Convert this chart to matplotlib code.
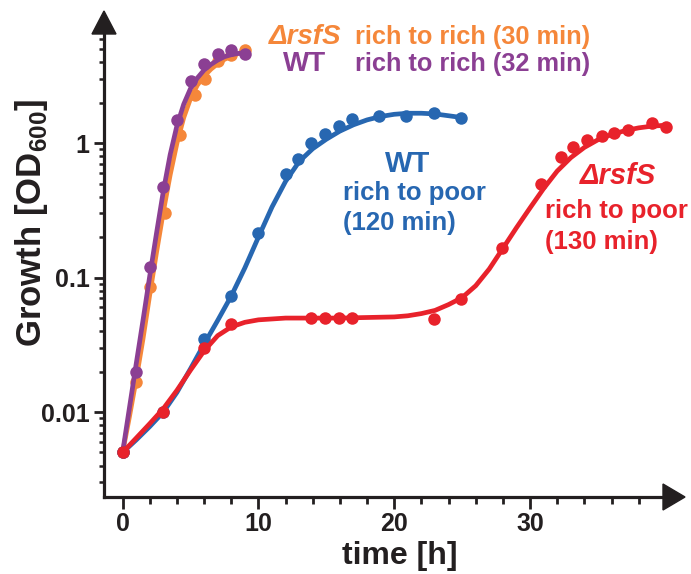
import numpy as np
import matplotlib
matplotlib.use("Agg")
import matplotlib.pyplot as plt
from matplotlib.patches import Polygon
from matplotlib.ticker import FixedLocator, NullFormatter

plt.rcParams["font.family"] = ["Liberation Sans", "DejaVu Sans"]
plt.rcParams["font.weight"] = "bold"
plt.rcParams["mathtext.fontset"] = "custom"
plt.rcParams["mathtext.rm"] = "Liberation Sans:bold"
plt.rcParams["mathtext.bf"] = "Liberation Sans:bold"

W, H = 691, 574

# ---- measured points (time in h, OD600) ----
wt_rich_t = [0, 1, 2, 3, 4, 5, 6, 7, 8, 9]
wt_rich_od = [0.005, 0.020, 0.119, 0.47, 1.50, 2.90, 3.85, 4.64, 4.97, 4.64]
rsfs_rich_t = [0, 1, 2, 3.1, 4.2, 5.3, 6.1, 7, 8, 9]
rsfs_rich_od = [0.005, 0.0166, 0.085, 0.305, 1.15, 2.27, 2.98, 4.1, 4.5, 4.9]
wt_poor_t = [0, 3, 6, 8, 10, 12, 12.9, 13.9, 14.9, 15.9, 16.9, 18.9, 20.9, 22.9, 24.9]
wt_poor_od = [0.005, 0.010, 0.0347, 0.073, 0.213, 0.588, 0.769, 1.005, 1.18,
              1.34, 1.51, 1.60, 1.59, 1.67, 1.53]
rsfs_poor_t = [0, 3, 6, 8, 13.9, 14.9, 15.9, 16.9, 22.9, 24.9, 27.9, 30.8, 32.3,
               33.2, 34.2, 35.3, 36.2, 37.2, 39.0, 40.0]
rsfs_poor_od = [0.005, 0.010, 0.030, 0.045, 0.050, 0.050, 0.050, 0.050, 0.049,
                0.069, 0.166, 0.50, 0.79, 0.94, 1.05, 1.13, 1.19, 1.26, 1.42, 1.33]

# ---- fitted growth curves ----
fit_rich_t = [0, 0.5, 1, 1.5, 2, 2.5, 3, 3.5, 4, 4.5, 5, 5.5, 6, 6.5, 7, 7.5, 8, 8.5, 9]
wt_rich_fit = [0.005, 0.0107, 0.0228, 0.048, 0.103, 0.215, 0.44, 0.82, 1.35, 1.95,
               2.55, 3.05, 3.5, 3.85, 4.15, 4.4, 4.55, 4.65, 4.7]
rsfs_rich_fit = [0.005, 0.0092, 0.0175, 0.035, 0.075, 0.155, 0.31, 0.58, 1.0, 1.55,
                 2.15, 2.7, 3.15, 3.55, 3.9, 4.2, 4.45, 4.65, 4.8]
wt_poor_fit_t = list(range(0, 26))
wt_poor_fit = [0.005, 0.0062, 0.0078, 0.0100, 0.0140, 0.0210, 0.0320, 0.048, 0.073,
               0.118, 0.20, 0.335, 0.52, 0.73, 0.91, 1.07, 1.23, 1.37, 1.49, 1.58,
               1.64, 1.67, 1.67, 1.65, 1.60, 1.55]
rsfs_poor_fit_t = [0, 1, 2, 3, 4, 5, 6, 7, 8, 9, 10, 12, 14, 16, 18, 20, 21, 22, 23,
                   24, 25, 26, 27, 28, 29, 30, 31, 32, 33, 34, 35, 36, 37, 38, 39, 40]
rsfs_poor_fit = [0.005, 0.0064, 0.0082, 0.0106, 0.0145, 0.0205, 0.0285, 0.037, 0.043,
                 0.0465, 0.0485, 0.050, 0.050, 0.050, 0.0505, 0.051, 0.052, 0.054,
                 0.057, 0.063, 0.071, 0.087, 0.116, 0.165, 0.235, 0.33, 0.46, 0.62,
                 0.78, 0.93, 1.06, 1.16, 1.24, 1.30, 1.34, 1.36]

ORANGE = "#F5873A"
PURPLE = "#8B3F93"
BLUE = "#2767B1"
RED = "#E8222B"
INK = "#231F20"

series = [
    (rsfs_rich_t, rsfs_rich_od, fit_rich_t, rsfs_rich_fit, ORANGE),
    (wt_rich_t, wt_rich_od, fit_rich_t, wt_rich_fit, PURPLE),
    (wt_poor_t, wt_poor_od, wt_poor_fit_t, wt_poor_fit, BLUE),
    (rsfs_poor_t, rsfs_poor_od, rsfs_poor_fit_t, rsfs_poor_fit, RED),
]


def fx(x):
    return x / W


def fy(y):
    return 1 - y / H


fig = plt.figure(figsize=(W / 100, H / 100), dpi=100)
# axes box in pixels: left 104, right 685, top 12, bottom 497
ax = fig.add_axes([fx(104), fy(497), (685 - 104) / W, (497 - 12) / H])

for i, (t, od, ft, fod, c) in enumerate(series):
    ax.plot(ft, fod, color=c, lw=3.4, solid_capstyle="round", zorder=3 + i,
            clip_on=False)
    ax.plot(t, od, "o", color=c, ms=9, mew=0, zorder=3 + i, clip_on=False)

ax.set_yscale("log")
ax.set_xlim(-1.37, 41.41)
ax.set_ylim(0.002333, 9.46)

for s in ["top", "right"]:
    ax.spines[s].set_visible(False)
for s in ["left", "bottom"]:
    ax.spines[s].set_linewidth(2.3)
    ax.spines[s].set_color(INK)
ax.spines["bottom"].set_bounds(-1.37, 39.9)
ax.spines["left"].set_bounds(0.002333, 6.8)

ax.xaxis.set_major_locator(FixedLocator([0, 10, 20, 30]))
ax.xaxis.set_minor_locator(FixedLocator([2, 4, 6, 8, 12, 14, 16, 18, 22, 24, 26,
                                         28, 32, 34, 36, 38]))
ax.yaxis.set_major_locator(FixedLocator([0.01, 0.1, 1]))
ax.yaxis.set_minor_locator(FixedLocator(
    [k * 0.001 for k in range(3, 10)] + [k * 0.01 for k in range(2, 10)]
    + [k * 0.1 for k in range(2, 10)] + [2, 3, 4, 5, 6]))
ax.yaxis.set_minor_formatter(NullFormatter())
ax.set_yticklabels(["0.01", "0.1", "1"])
ax.set_xticklabels(["0", "10", "20", "30"])

ax.tick_params(axis="x", which="major", length=8.5, width=2.0, pad=2,
               labelsize=18, color=INK)
ax.tick_params(axis="x", which="minor", length=5, width=2.0, color=INK)
ax.tick_params(axis="y", which="major", length=7.2, width=2.0, pad=3,
               labelsize=18, color=INK)
ax.tick_params(axis="y", which="minor", length=3.6, width=1.8, color=INK)
for lab in ax.get_xticklabels() + ax.get_yticklabels():
    lab.set_fontweight("bold")
    lab.set_color(INK)

# arrow heads on the axes
fig.patches.append(Polygon([(fx(685), fy(497)), (fx(663), fy(484)), (fx(663), fy(510))],
                           closed=True, transform=fig.transFigure,
                           color=INK, zorder=10))
fig.patches.append(Polygon([(fx(104), fy(11)), (fx(92), fy(34)), (fx(116), fy(34))],
                           closed=True, transform=fig.transFigure,
                           color=INK, zorder=10))

fig.text(fx(32), fy(223), r"Growth [OD$_{600}$]", rotation=90, ha="center",
         va="center", fontsize=25, fontweight="bold", color=INK)
fig.text(fx(400), fy(556), "time [h]", ha="center", va="center", fontsize=23,
         fontweight="bold", color=INK)

# curve labels
fig.text(fx(305), fy(44), "ΔrsfS", ha="center", va="baseline", fontsize=20,
         style="italic", fontweight="bold", color=ORANGE)
fig.text(fx(355), fy(44), "rich to rich (30 min)", ha="left", va="baseline",
         fontsize=18.3, fontweight="bold", color=ORANGE)
fig.text(fx(305), fy(71), "WT", ha="center", va="baseline", fontsize=20,
         fontweight="bold", color=PURPLE)
fig.text(fx(355), fy(71), "rich to rich (32 min)", ha="left", va="baseline",
         fontsize=18.3, fontweight="bold", color=PURPLE)

fig.text(fx(408), fy(172), "WT", ha="center", va="baseline", fontsize=21,
         fontweight="bold", color=BLUE)
fig.text(fx(343), fy(200), "rich to poor", ha="left", va="baseline", fontsize=18.5,
         fontweight="bold", color=BLUE)
fig.text(fx(343), fy(230), "(120 min)", ha="left", va="baseline", fontsize=18.5,
         fontweight="bold", color=BLUE)

fig.text(fx(618), fy(184), "ΔrsfS", ha="center", va="baseline", fontsize=21,
         style="italic", fontweight="bold", color=RED)
fig.text(fx(545), fy(218), "rich to poor", ha="left", va="baseline", fontsize=18.5,
         fontweight="bold", color=RED)
fig.text(fx(545), fy(249), "(130 min)", ha="left", va="baseline", fontsize=18.5,
         fontweight="bold", color=RED)

fig.savefig("out.png", dpi=100)
